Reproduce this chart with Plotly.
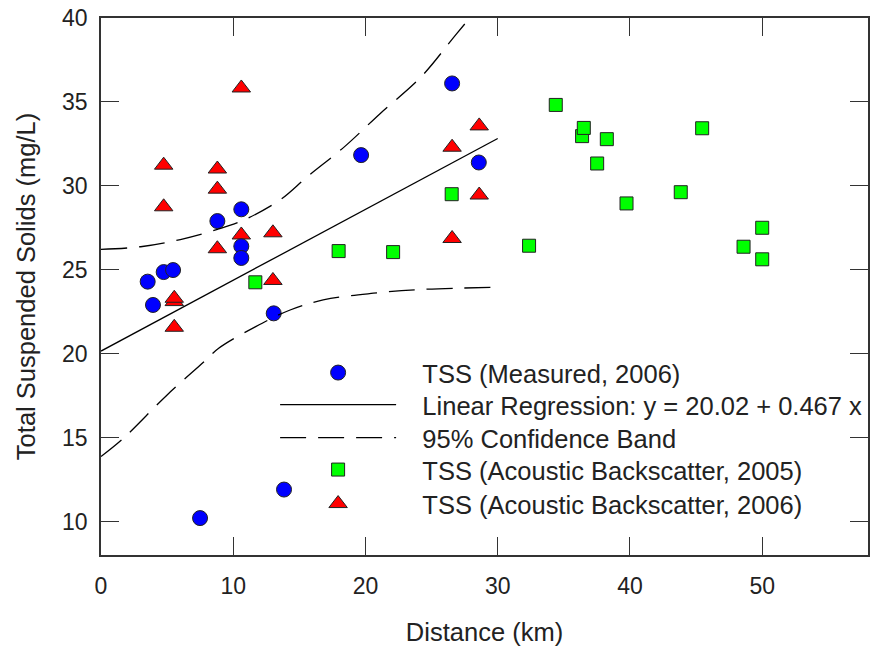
import plotly.graph_objects as go

# Measured TSS 2006 (blue circles)
meas_x = [3.53, 3.93, 4.74, 5.45, 7.49, 8.80, 10.61, 10.61, 10.61, 13.06, 13.84, 19.67, 26.55, 28.57]
meas_y = [24.29, 22.90, 24.86, 24.98, 10.20, 27.90, 28.60, 26.40, 25.70, 22.40, 11.90, 31.83, 36.10, 31.39]

# Acoustic backscatter 2005 (green squares)
ab05_x = [11.67, 17.97, 22.09, 26.52, 32.37, 34.39, 36.38, 36.51, 37.52, 38.25, 39.74, 43.84, 45.46, 48.59, 50.00, 50.00]
ab05_y = [24.25, 26.11, 26.05, 29.50, 26.43, 34.82, 32.96, 33.45, 31.33, 32.78, 28.95, 29.62, 33.43, 26.37, 27.50, 25.62]

# Acoustic backscatter 2006 (red triangles)
ab06_x = [4.74, 4.74, 5.54, 5.54, 5.54, 8.80, 8.80, 8.80, 10.61, 10.61, 13.00, 13.00, 26.55, 26.55, 28.60, 28.60]
ab06_y = [31.23, 28.75, 23.10, 23.30, 21.57, 31.00, 29.80, 26.25, 35.83, 27.07, 27.20, 24.36, 32.30, 26.86, 33.57, 29.45]

# Regression line
fit_x = [0, 30]
fit_y = [20.15, 32.82]

# 95% confidence band
upper_x = [0, 3.0, 6.0, 8.8, 10.8, 13.6, 15.6, 18.4, 21.1, 24.2, 26.9, 30.0]
upper_y = [26.21, 26.37, 26.80, 27.40, 27.96, 29.19, 30.54, 32.32, 34.30, 36.49, 39.07, 42.0]
lower_x = [0, 1.7, 5.0, 7.8, 8.9, 11.7, 14.3, 16.8, 20.6, 24.4, 30.0]
lower_y = [13.87, 14.96, 17.54, 19.52, 20.32, 21.61, 22.60, 23.20, 23.60, 23.83, 23.95]

x_ticks = [0, 10, 20, 30, 40, 50]
y_ticks = [10, 15, 20, 25, 30, 35, 40]

legend_names = [
    "TSS (Measured, 2006)",
    "Linear Regression: y = 20.02 + 0.467 x",
    "95% Confidence Band",
    "TSS (Acoustic Backscatter, 2005)",
    "TSS (Acoustic Backscatter, 2006)",
]

FONT = "Liberation Sans, Arial, Helvetica, sans-serif"
edge = dict(color="#222222", width=1)
PAD = "\u00a0\u00a0\u00a0"

fig = go.Figure()

fig.add_trace(go.Scatter(
    x=ab05_x, y=ab05_y, mode="markers", name=PAD + legend_names[3], legend="legend4",
    marker=dict(symbol="square", size=13, color="#00FF00", line=edge)))
fig.add_trace(go.Scatter(
    x=ab06_x, y=ab06_y, mode="markers", name=PAD + legend_names[4], legend="legend5",
    marker=dict(symbol="triangle-up", size=16, color="#FF0000", line=edge)))
fig.add_trace(go.Scatter(
    x=meas_x, y=meas_y, mode="markers", name=PAD + legend_names[0], legend="legend",
    marker=dict(symbol="circle", size=15, color="#0000FF", line=edge)))
fig.add_trace(go.Scatter(
    x=fit_x, y=fit_y, mode="lines", name=PAD + legend_names[1], legend="legend2",
    line=dict(color="black", width=1.3)))
fig.add_trace(go.Scatter(
    x=upper_x, y=upper_y, mode="lines", name=PAD + legend_names[2], legend="legend3",
    legendgroup="ci",
    line=dict(color="black", width=1.3, dash="26px,12px", shape="spline")))
fig.add_trace(go.Scatter(
    x=lower_x, y=lower_y, mode="lines", name=PAD + legend_names[2], legend="legend3",
    legendgroup="ci", showlegend=False,
    line=dict(color="black", width=1.3, dash="26px,12px", shape="spline")))

axis_common = dict(
    showline=True, linecolor="#333333", linewidth=1.5, mirror="ticks",
    ticks="inside", ticklen=18, tickwidth=1.3, tickcolor="#333333",
    showgrid=False, zeroline=False, automargin=False,
    tickfont=dict(family=FONT, size=23, color="#222222"),
)

TOP, PLOT_H = 18, 537
row_px = [373, 405, 438, 470, 504]


def legend_at(py):
    return dict(x=0.227, y=1 - (py - TOP) / PLOT_H, xanchor="left", yanchor="middle",
                bgcolor="rgba(0,0,0,0)", borderwidth=0,
                font=dict(family=FONT, size=25.5, color="#222222"),
                itemwidth=116)


fig.update_layout(
    width=882, height=646,
    margin=dict(l=101, r=14, t=TOP, b=91),
    paper_bgcolor="white", plot_bgcolor="white",
    font=dict(family=FONT, color="#222222"),
    xaxis=dict(range=[0, 58], tickvals=x_ticks,
               title=dict(text="Distance (km)", font=dict(family=FONT, size=25.5), standoff=27),
               ticklabelstandoff=10, **axis_common),
    yaxis=dict(range=[8, 40], tickvals=y_ticks,
               title=dict(text="Total Suspended Solids (mg/L)", font=dict(family=FONT, size=25.5), standoff=19),
               ticklabelstandoff=7, **axis_common),
    legend=legend_at(row_px[0]),
    legend2=legend_at(row_px[1]),
    legend3=legend_at(row_px[2]),
    legend4=legend_at(row_px[3]),
    legend5=legend_at(row_px[4]),
    showlegend=True,
)

fig.write_html("out.html", config={"displayModeBar": False},
               post_script="document.body.style.margin='0';")
